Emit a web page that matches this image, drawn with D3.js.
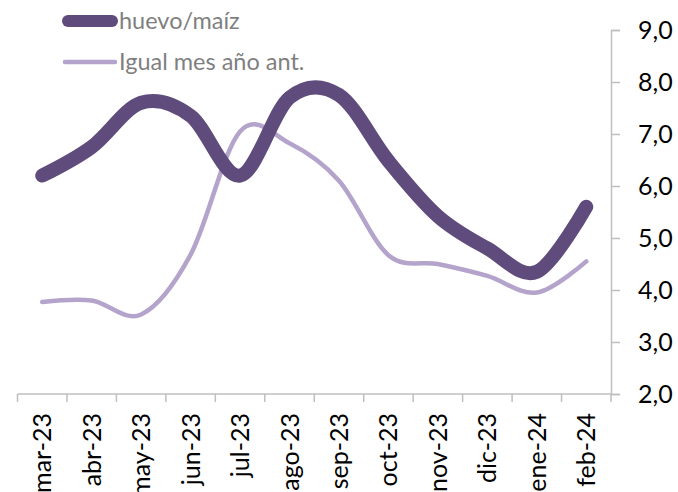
<!DOCTYPE html>
<html>
<head>
<meta charset="utf-8">
<script src="https://cdn.jsdelivr.net/npm/d3@7/dist/d3.min.js"></script>
<style>
  html, body { margin: 0; padding: 0; background: #fff; }
  svg { display: block; font-family: Lato, "Open Sans", sans-serif; }
</style>
</head>
<body>
<svg id="chart" width="678" height="492"></svg>
<script>
// Monthly categories
const months = ["mar-23","abr-23","may-23","jun-23","jul-23","ago-23","sep-23","oct-23","nov-23","dic-23","ene-24","feb-24"];
// Ratio huevo/maíz, current period
const huevoMaiz = [6.2, 6.75, 7.6, 7.35, 6.2, 7.7, 7.75, 6.48, 5.42, 4.8, 4.35, 5.6];
// Same month, previous year
const igualMesAnt = [3.77, 3.8, 3.53, 4.68, 7.05, 6.82, 6.1, 4.67, 4.5, 4.27, 3.95, 4.55];
// Value axis ticks
const yTicks = [2, 3, 4, 5, 6, 7, 8, 9];

const seriesNames = ["huevo/maíz", "Igual mes año ant."];
const colors = { dark: "#5f4b7c", light: "#b4a3cb" };

const svg = d3.select("#chart");

const plot = { left: 17.5, right: 611, top: 30, bottom: 394 };

const x = d3.scaleBand().domain(months).range([plot.left, plot.right]).paddingInner(0).paddingOuter(0);
const y = d3.scaleLinear().domain([2, 9]).range([plot.bottom, plot.top]);
const cx = d => x(d) + x.bandwidth() / 2;

const axisColor = "#bfbfbf";

// Category axis: baseline and tick marks between categories
const gx = svg.append("g");
gx.append("line")
  .attr("x1", plot.left).attr("x2", plot.right)
  .attr("y1", plot.bottom).attr("y2", plot.bottom)
  .attr("stroke", axisColor).attr("stroke-width", 1.5);
const edges = months.map(m => x(m)).concat([plot.right]);
gx.selectAll("line.tick").data(edges).join("line")
  .attr("class", "tick")
  .attr("x1", d => d).attr("x2", d => d)
  .attr("y1", plot.bottom).attr("y2", plot.bottom + 8)
  .attr("stroke", axisColor).attr("stroke-width", 1.5);
gx.selectAll("text").data(months).join("text")
  .attr("transform", d => `translate(${cx(d)},${plot.bottom + 19}) rotate(-90)`)
  .attr("text-anchor", "end")
  .attr("dy", "0.36em")
  .attr("font-size", 25)
  .attr("fill", "#000")
  .text(d => d);

// Value axis on the right
const yAxis = d3.axisRight(y)
  .tickValues(yTicks)
  .tickSize(9)
  .tickPadding(18)
  .tickFormat(d => d.toFixed(1).replace(".", ","));
const gy = svg.append("g")
  .attr("transform", `translate(${plot.right},0)`)
  .call(yAxis);
gy.select(".domain").attr("stroke", axisColor).attr("stroke-width", 1.5);
gy.selectAll(".tick line").attr("stroke", axisColor).attr("stroke-width", 1.5);
gy.selectAll(".tick text")
  .attr("font-size", 25)
  .attr("font-family", "Lato, 'Open Sans', sans-serif")
  .attr("fill", "#000");

// Smoothed lines
const line = d3.line()
  .x((d, i) => cx(months[i]))
  .y(d => y(d))
  .curve(d3.curveCatmullRom.alpha(0));

svg.append("path")
  .datum(igualMesAnt)
  .attr("d", line)
  .attr("fill", "none")
  .attr("stroke", colors.light)
  .attr("stroke-width", 4.5)
  .attr("stroke-linecap", "round")
  .attr("stroke-linejoin", "round");

svg.append("path")
  .datum(huevoMaiz)
  .attr("d", line)
  .attr("fill", "none")
  .attr("stroke", colors.dark)
  .attr("stroke-width", 14)
  .attr("stroke-linecap", "round")
  .attr("stroke-linejoin", "round");

// Legend
const legend = [
  { name: seriesNames[0], color: colors.dark, width: 12, y: 21, x1: 68, x2: 112 },
  { name: seriesNames[1], color: colors.light, width: 4.5, y: 62, x1: 65, x2: 115 }
];
const lg = svg.append("g");
lg.selectAll("line").data(legend).join("line")
  .attr("x1", d => d.x1).attr("x2", d => d.x2)
  .attr("y1", d => d.y).attr("y2", d => d.y)
  .attr("stroke", d => d.color)
  .attr("stroke-width", d => d.width)
  .attr("stroke-linecap", "round");
lg.selectAll("text").data(legend).join("text")
  .attr("x", 119)
  .attr("y", d => d.y)
  .attr("dy", "0.33em")
  .attr("font-size", 23.5)
  .attr("fill", "#7f7f7f")
  .text(d => d.name);
</script>
</body>
</html>
